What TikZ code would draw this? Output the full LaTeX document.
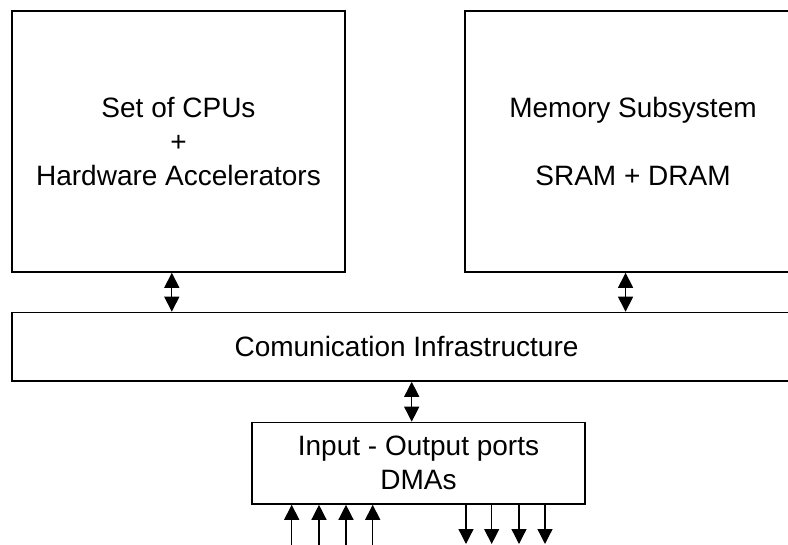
\documentclass[tikz,border=0pt]{standalone}
\usepackage{fontspec}
\setmainfont{Liberation Sans}
\usetikzlibrary{arrows.meta,calc}

\tikzset{
  block/.style={draw=black, line width=1.6pt, rectangle, inner sep=0pt,
    align=center, font=\fontsize{28pt}{34pt}\selectfont},
  head/.style={Triangle[length=15pt,width=15pt]},
  link/.style={line width=1.3pt, {Triangle[length=15pt,width=15pt]}-{Triangle[length=15pt,width=15pt]}},
  inarrow/.style={line width=1.3pt, -{Triangle[length=15pt,width=15pt]}},
}

\begin{document}
\begin{tikzpicture}[x=1pt, y=-1pt]
  \useasboundingbox (0,0) rectangle (788,545);
  \clip (0,0) rectangle (788,545);

  % main blocks
  \node[block, minimum width=333pt, minimum height=261pt] (cpu) at (178.5,141.5)
    {Set of CPUs\\+\\Hardware Accelerators};
  \node[block, minimum width=336pt, minimum height=261pt] (mem) at (633,141.5)
    {Memory Subsystem\\[34pt]SRAM + DRAM};
  \node[block, minimum width=789pt, minimum height=68.5pt] (comm) at (406.5,346.75)
    {Comunication Infrastructure};
  \node[block, minimum width=333pt, minimum height=81.5pt] (io) at (418.5,463.25)
    {Input - Output ports\\DMAs};

  % bidirectional links to the interconnect
  \coordinate (c1) at ($(cpu.south west)!.48!(cpu.south east)$);
  \coordinate (m1) at ($(mem.south west)!.478!(mem.south east)$);
  \coordinate (b1) at ($(comm.south west)!.5066!(comm.south east)$);
  \draw[link] (c1) -- (c1 |- comm.north);
  \draw[link] (m1) -- (m1 |- comm.north);
  \draw[link] (b1) -- (b1 |- io.north);

  % external ports below the I/O block
  \foreach \x [count=\i] in {291.7,319,346,372.7} {
    \coordinate (in\i) at (\x,545);
    \draw[inarrow] (in\i) -- (in\i |- io.south);
  }
  \foreach \x [count=\i] in {466,491.7,519,545} {
    \coordinate (out\i) at (\x,544);
    \draw[inarrow] (out\i |- io.south) -- (out\i);
  }
\end{tikzpicture}
\end{document}
